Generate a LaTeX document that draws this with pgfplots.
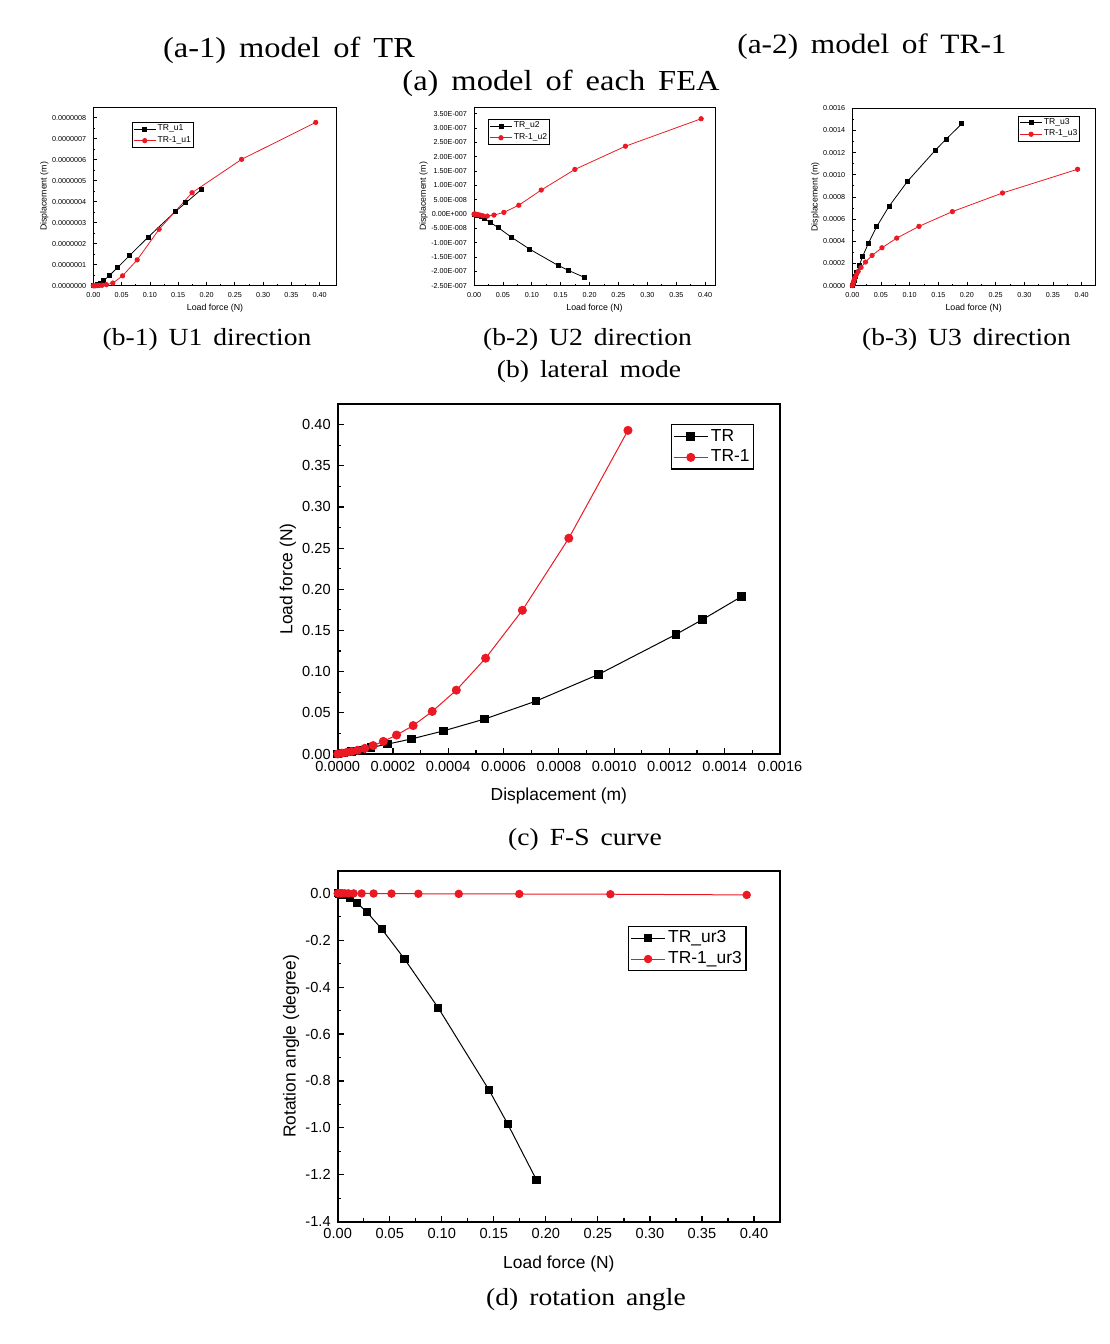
\documentclass[border=0pt]{standalone}
\usepackage{fontspec}
\setmainfont{Liberation Sans}
\newfontfamily\capfont[FakeStretch=1.12,WordSpace=1.6]{Liberation Serif}
\usepackage{pgfplots}
\usepackage{pgfplotstable}
\pgfplotsset{compat=1.18}
\definecolor{ored}{RGB}{235,25,35}

% TR series: load F (N), u1, u2, u3 (m), ur3 (degree)
\pgfplotstableread{
F u1 u2 u3 ur3
0.191 4.585e-7 -2.21e-7 0.00146 -1.222
0.1633 3.95e-7 -1.965e-7 0.00132 -0.983
0.1453 3.54e-7 -1.79e-7 0.001224 -0.838
0.0967 2.31e-7 -1.23e-7 0.000944 -0.489
0.0642 1.44e-7 -0.80e-7 0.000717 -0.280
0.0425 0.854e-7 -0.48e-7 0.000532 -0.1535
0.028 0.474e-7 -0.29e-7 0.000382 -0.08
0.0182 0.237e-7 -0.16e-7 0.000266 -0.04
0.012 0.13e-7 -0.09e-7 0.00018 -0.018
0.0078 0.07e-7 -0.05e-7 0.00012 -0.009
0.0048 0.035e-7 -0.028e-7 0.00008 -0.005
0.0028 0.015e-7 -0.014e-7 0.00005 -0.002
0.0012 0.004e-7 -0.005e-7 0.000022 -0.0008
0 0 0 0 0
}\trtab

% TR-1 series
\pgfplotstableread{
F u1 u2 u3 ur3
0.393 7.78e-7 3.33e-7 0.00105 -0.007
0.262 6.02e-7 2.37e-7 0.000836 -0.004
0.1745 4.43e-7 1.56e-7 0.000668 -0.003
0.1163 2.69e-7 0.84e-7 0.000535 -0.0025
0.0775 1.23e-7 0.31e-7 0.000429 -0.002
0.0517 0.47e-7 0.06e-7 0.000342 -0.0015
0.0345 0.126e-7 -0.035e-7 0.000273 -0.001
0.023 0.05e-7 -0.07e-7 0.000213 -0.0008
0.0153 0.02e-7 -0.06e-7 0.000165 -0.0006
0.0102 0.01e-7 -0.035e-7 0.000128 -0.0004
0.0068 0.005e-7 -0.02e-7 0.000098 -0.0003
0.0045 0.003e-7 -0.01e-7 0.000072 -0.0002
0.003 0.002e-7 -0.005e-7 0.00005 -0.0001
0.002 0.001e-7 -0.002e-7 0.000033 0
0.001 0 -0.001e-7 0.000015 0
0 0 0 0 0
}\tronetab

\pgfplotsset{
  common/.style={
    scale only axis,
    anchor=south west,
    tick align=inside,
    tick pos=left,
    minor x tick num=1,
    minor y tick num=1,
    /pgf/number format/assume math mode=true,
    scaled x ticks=false,
    scaled y ticks=false,
    legend cell align=left,
  },
  smallax/.style={
    common,
    axis line style={line width=0.5pt},
    major tick length=1.6pt,
    minor tick length=0.9pt,
    every tick/.style={line width=0.4pt},
    tick label style={font=\fontsize{3.6}{4}\selectfont},
    label style={font=\fontsize{4.4}{5}\selectfont},
    xlabel={Load force (N)},
    ylabel={Displacement (m)},
    xlabel shift=-3.5pt,
    ylabel shift=-5pt,
    xmin=0,
    xtick={0,0.05,0.1,0.15,0.2,0.25,0.3,0.35,0.4},
    xticklabel style={/pgf/number format/fixed,/pgf/number format/fixed zerofill,/pgf/number format/precision=2},
    legend style={font=\fontsize{4.3}{4.6}\selectfont, draw=black, line width=0.4pt,
      inner sep=0.5pt, row sep=0pt, nodes={inner sep=0.6pt}, anchor=north west},
    legend image code/.code={\draw[mark repeat=2,mark phase=2,#1] plot coordinates {(0pt,0pt) (5.6pt,0pt) (11.2pt,0pt)};},
  },
  bigax/.style={
    common,
    width=221.15pt,
    axis line style={line width=0.9pt},
    major tick length=3pt,
    minor tick length=1.8pt,
    every tick/.style={line width=0.6pt},
    tick label style={font=\fontsize{7.3}{8}\selectfont},
    label style={font=\fontsize{8.7}{10}\selectfont},
    xlabel shift=1.5pt,
    ylabel shift=-3.8pt,
    legend style={font=\fontsize{8.7}{9.5}\selectfont, draw=black, line width=0.6pt,
      inner sep=0.8pt, row sep=0.3pt, nodes={inner sep=1.3pt}, anchor=north west},
  },
  trsmall/.style={black, line width=0.4pt, mark=square*, mark size=1pt, mark options={solid}},
  tronesmall/.style={ored, line width=0.4pt, mark=*, mark size=1.1pt, mark options={solid}},
  trbig/.style={black, line width=0.5pt, mark=square*, mark size=1.9pt, mark options={solid}},
  tronebig/.style={ored, line width=0.5pt, mark=*, mark size=2pt, mark options={solid}},
}

\begin{document}
\begin{tikzpicture}[x=1pt,y=1pt]
\useasboundingbox (0,0) rectangle (554.5,672);

% captions
\node[font=\capfont\fontsize{14.5}{17}\selectfont] at (144.5,647) {(a-1) model of TR};
\node[font=\capfont\fontsize{14}{17}\selectfont] at (436,648.5) {(a-2) model of TR-1};
\node[font=\capfont\fontsize{14.5}{17}\selectfont] at (280.5,630.5) {(a) model of each FEA};
\node[font=\capfont\fontsize{12.3}{14}\selectfont] at (103.5,502) {(b-1) U1 direction};
\node[font=\capfont\fontsize{12.3}{14}\selectfont] at (293.75,502) {(b-2) U2 direction};
\node[font=\capfont\fontsize{12.3}{14}\selectfont] at (483.25,502) {(b-3) U3 direction};
\node[font=\capfont\fontsize{12.3}{14}\selectfont] at (294.5,486) {(b) lateral mode};
\node[font=\capfont\fontsize{12.3}{14}\selectfont] at (292.5,252) {(c) F-S curve};
\node[font=\capfont\fontsize{12.3}{14}\selectfont] at (293,22) {(d) rotation angle};

% (b-1)
\begin{axis}[smallax, at={(46.65pt,529.15pt)}, width=121.7pt, height=89.2pt,
  xmax=0.43, ymin=0, ymax=8.5e-7,
  ytick={0,1e-7,2e-7,3e-7,4e-7,5e-7,6e-7,7e-7,8e-7},
  yticklabels={0.0000000,0.0000001,0.0000002,0.0000003,0.0000004,0.0000005,0.0000006,0.0000007,0.0000008},
  legend style={at={(0.158,0.916)}}]
\addplot[trsmall] table[x=F,y=u1]{\trtab};
\addplot[tronesmall] table[x=F,y=u1]{\tronetab};
\legend{TR\_u1,TR-1\_u1}
\end{axis}

% (b-2)
\begin{axis}[smallax, at={(237pt,529.15pt)}, width=120.5pt, height=89.2pt,
  xmax=0.417, ymin=-2.5e-7, ymax=3.73e-7,
  ytick={-2.5e-7,-2e-7,-1.5e-7,-1e-7,-0.5e-7,0,0.5e-7,1e-7,1.5e-7,2e-7,2.5e-7,3e-7,3.5e-7},
  yticklabels={-2.50E-007,-2.00E-007,-1.50E-007,-1.00E-007,-5.00E-008,0.00E+000,5.00E-008,1.00E-007,1.50E-007,2.00E-007,2.50E-007,3.00E-007,3.50E-007},
  minor y tick num=0,
  legend style={at={(0.058,0.933)}}]
\addplot[trsmall] table[x=F,y=u2]{\trtab};
\addplot[tronesmall] table[x=F,y=u2]{\tronetab};
\legend{TR\_u2,TR-1\_u2}
\end{axis}

% (b-3)
\begin{axis}[smallax, at={(426.15pt,529.15pt)}, width=121.35pt, height=88.7pt,
  xmax=0.4234, ymin=0, ymax=0.0016,
  ytick={0,0.0002,0.0004,0.0006,0.0008,0.001,0.0012,0.0014,0.0016},
  yticklabel style={/pgf/number format/fixed,/pgf/number format/fixed zerofill,/pgf/number format/precision=4},
  legend style={at={(0.683,0.958)}}]
\addplot[trsmall] table[x=F,y=u3]{\trtab};
\addplot[tronesmall] table[x=F,y=u3]{\tronetab};
\legend{TR\_u3,TR-1\_u3}
\end{axis}

% (c)
\begin{axis}[bigax, at={(168.85pt,295pt)}, height=175pt,
  xmin=0, xmax=0.0016, ymin=0, ymax=0.425,
  xtick={0,0.0002,0.0004,0.0006,0.0008,0.001,0.0012,0.0014,0.0016},
  ytick={0,0.05,0.1,0.15,0.2,0.25,0.3,0.35,0.4},
  xticklabel style={/pgf/number format/fixed,/pgf/number format/fixed zerofill,/pgf/number format/precision=4},
  yticklabel style={/pgf/number format/fixed,/pgf/number format/fixed zerofill,/pgf/number format/precision=2},
  xlabel={Displacement (m)}, ylabel={Load force (N)},
  legend style={at={(0.7536,0.942)}}]
\addplot[trbig] table[x=u3,y=F]{\trtab};
\addplot[tronebig] table[x=u3,y=F]{\tronetab};
\legend{TR,TR-1}
\end{axis}

% (d)
\begin{axis}[bigax, at={(168.85pt,61.15pt)}, height=175.35pt,
  xmin=0, xmax=0.425, ymin=-1.4, ymax=0.095,
  xtick={0,0.05,0.1,0.15,0.2,0.25,0.3,0.35,0.4},
  ytick={-1.4,-1.2,-1,-0.8,-0.6,-0.4,-0.2,0},
  xticklabel style={/pgf/number format/fixed,/pgf/number format/fixed zerofill,/pgf/number format/precision=2},
  yticklabel style={/pgf/number format/fixed,/pgf/number format/fixed zerofill,/pgf/number format/precision=1},
  xlabel={Load force (N)}, ylabel={Rotation angle (degree)},
  legend style={at={(0.657,0.844)}}]
\addplot[trbig, mark size=1.8pt] table[x=F,y=ur3]{\trtab};
\addplot[tronebig, mark size=1.85pt] table[x=F,y=ur3]{\tronetab};
\legend{TR\_ur3,TR-1\_ur3}
\end{axis}
\end{tikzpicture}
\end{document}
